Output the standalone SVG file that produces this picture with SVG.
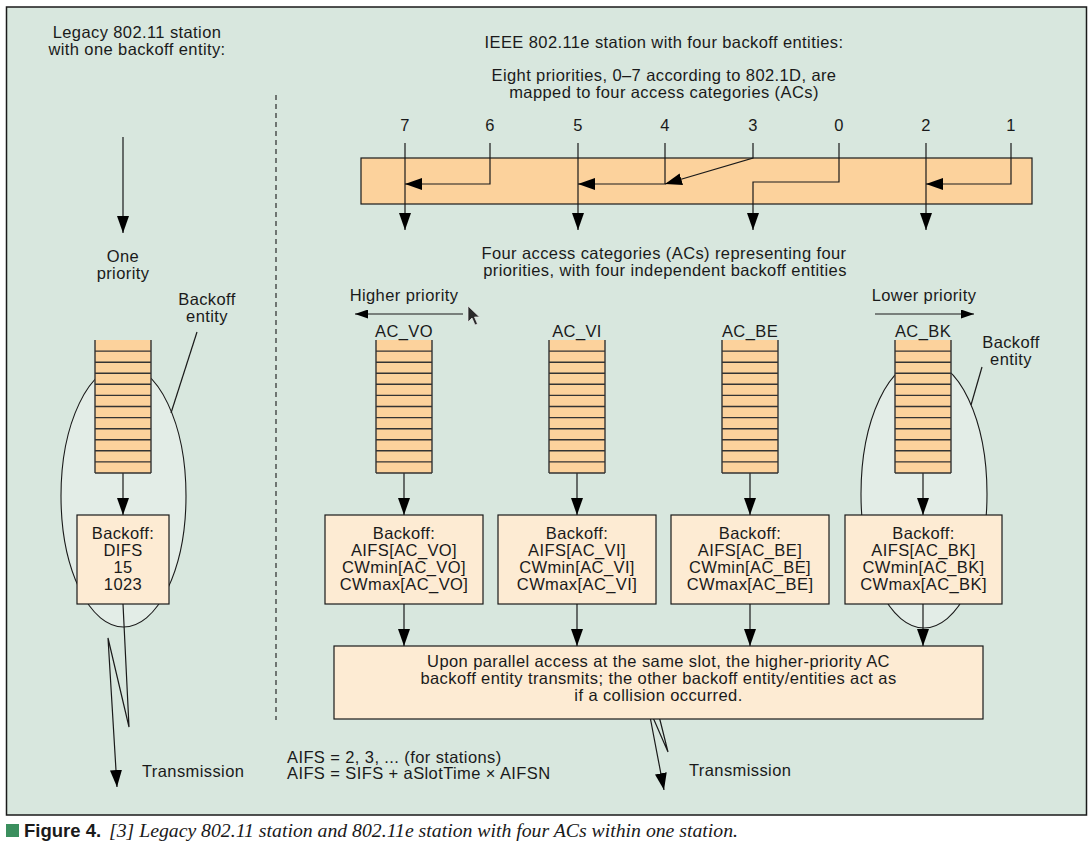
<svg xmlns="http://www.w3.org/2000/svg" xmlns:xlink="http://www.w3.org/1999/xlink" width="1092" height="849" viewBox="0 0 1092 849">
<style>
text{font-family:"Liberation Sans",Arial,sans-serif;font-size:16.5px;letter-spacing:0.4px;fill:#1a1a1a}
.c{text-anchor:middle}
.ln{fill:none;stroke:#1a1a1a;stroke-width:1.2}
.box{fill:#fdebd3;stroke:#1a1a1a;stroke-width:1.2}
.ell{fill:#e3ede7;stroke:#1a1a1a;stroke-width:1.1}
</style>
<defs>
<marker id="ah" markerUnits="userSpaceOnUse" viewBox="0 0 17 12" refX="17" refY="6" markerWidth="17" markerHeight="12" orient="auto"><path d="M0,0 L17,6 L0,12 z" fill="#000"/></marker>
<marker id="as" markerUnits="userSpaceOnUse" viewBox="0 0 13 9" refX="13" refY="4.5" markerWidth="13" markerHeight="9" orient="auto"><path d="M0,0 L13,4.5 L0,9 z" fill="#000"/></marker>
<g id="q">
<rect x="0" y="0" width="56" height="133" fill="#fcd29c"/>
<path d="M0,0 V133 M56,0 V133 M0,11.1 H56 M0,22.2 H56 M0,33.3 H56 M0,44.3 H56 M0,55.4 H56 M0,66.5 H56 M0,77.6 H56 M0,88.7 H56 M0,99.8 H56 M0,110.8 H56 M0,121.9 H56 M0,133 H56" fill="none" stroke="#333" stroke-width="1.4"/>
</g>
</defs>
<rect x="6.5" y="7" width="1080" height="808" fill="#d8e7de" stroke="#1a1a1a" stroke-width="1.5"/>
<line x1="276" y1="95" x2="276" y2="720" stroke="#1a1a1a" stroke-width="1.1" stroke-dasharray="5,4"/>

<g id="entity-legacy"><ellipse class="ell" cx="123.5" cy="496" rx="62.5" ry="131"/></g>
<g id="entity-bk"><ellipse class="ell" cx="924" cy="494" rx="63" ry="134"/></g>
<g id="mapping-bar"><rect x="361" y="158" width="671" height="46" fill="#fcd29c" stroke="#1a1a1a" stroke-width="1.2"/></g>

<g id="connectors">
<line class="ln" x1="123" y1="137" x2="123" y2="233" marker-end="url(#ah)"/>
<line class="ln" x1="405" y1="143" x2="405" y2="230" marker-end="url(#ah)"/>
<polyline class="ln" points="490,143 490,184 405,184" marker-end="url(#ah)"/>
<line class="ln" x1="578" y1="143" x2="578" y2="230" marker-end="url(#ah)"/>
<polyline class="ln" points="665,143 665,184 578,184" marker-end="url(#ah)"/>
<polyline class="ln" points="753,143 753,158 665,184" marker-end="url(#ah)"/>
<polyline class="ln" points="839,143 839,182 753,182 753,230" marker-end="url(#ah)"/>
<line class="ln" x1="926" y1="143" x2="926" y2="230" marker-end="url(#ah)"/>
<polyline class="ln" points="1011,143 1011,184 926,184" marker-end="url(#ah)"/>
<line class="ln" x1="463" y1="314" x2="355" y2="314" marker-end="url(#as)"/>
<line class="ln" x1="875" y1="314" x2="974" y2="314" marker-end="url(#as)"/>
<line class="ln" x1="197" y1="332" x2="171" y2="413"/>
<line class="ln" x1="982" y1="367" x2="971" y2="405"/>
<line class="ln" x1="123" y1="473" x2="123" y2="515" marker-end="url(#ah)"/>
<line class="ln" x1="404" y1="473" x2="404" y2="515" marker-end="url(#ah)"/>
<line class="ln" x1="577" y1="473" x2="577" y2="515" marker-end="url(#ah)"/>
<line class="ln" x1="750" y1="473" x2="750" y2="515" marker-end="url(#ah)"/>
<line class="ln" x1="923" y1="473" x2="923" y2="515" marker-end="url(#ah)"/>
<line class="ln" x1="404" y1="604" x2="404" y2="646" marker-end="url(#ah)"/>
<line class="ln" x1="577" y1="604" x2="577" y2="646" marker-end="url(#ah)"/>
<line class="ln" x1="750" y1="604" x2="750" y2="646" marker-end="url(#ah)"/>
<line class="ln" x1="923" y1="604" x2="923" y2="646" marker-end="url(#ah)"/>
<polyline class="ln" points="123,604 129,727 108,638 117,787" marker-end="url(#ah)"/>
<polyline class="ln" points="655,700 668,752 648,706 664,790" marker-end="url(#ah)"/>
</g>

<g id="queue-legacy"><use xlink:href="#q" x="95" y="340"/></g>
<g id="queue-vo"><use xlink:href="#q" x="376" y="340"/></g>
<g id="queue-vi"><use xlink:href="#q" x="549" y="340"/></g>
<g id="queue-be"><use xlink:href="#q" x="722" y="340"/></g>
<g id="queue-bk"><use xlink:href="#q" x="895" y="340"/></g>

<g id="backoff-legacy"><rect class="box" x="77" y="515" width="92" height="89"/>
<text class="c" x="123" y="539">Backoff:</text><text class="c" x="123" y="556">DIFS</text><text class="c" x="123" y="573">15</text><text class="c" x="123" y="590">1023</text></g>
<g id="backoff-vo"><rect class="box" x="325" y="515" width="158" height="89"/>
<text class="c" x="404" y="539">Backoff:</text><text class="c" x="404" y="556">AIFS[AC_VO]</text><text class="c" x="404" y="573">CWmin[AC_VO]</text><text class="c" x="404" y="590">CWmax[AC_VO]</text></g>
<g id="backoff-vi"><rect class="box" x="498" y="515" width="158" height="89"/>
<text class="c" x="577" y="539">Backoff:</text><text class="c" x="577" y="556">AIFS[AC_VI]</text><text class="c" x="577" y="573">CWmin[AC_VI]</text><text class="c" x="577" y="590">CWmax[AC_VI]</text></g>
<g id="backoff-be"><rect class="box" x="671" y="515" width="158" height="89"/>
<text class="c" x="750" y="539">Backoff:</text><text class="c" x="750" y="556">AIFS[AC_BE]</text><text class="c" x="750" y="573">CWmin[AC_BE]</text><text class="c" x="750" y="590">CWmax[AC_BE]</text></g>
<g id="backoff-bk"><rect class="box" x="845" y="515" width="157" height="89"/>
<text class="c" x="923.5" y="539">Backoff:</text><text class="c" x="923.5" y="556">AIFS[AC_BK]</text><text class="c" x="923.5" y="573">CWmin[AC_BK]</text><text class="c" x="923.5" y="590">CWmax[AC_BK]</text></g>

<g id="arbiter"><rect class="box" x="334" y="646" width="649" height="73"/>
<text class="c" x="658.5" y="667">Upon parallel access at the same slot, the higher-priority AC</text>
<text class="c" x="658.5" y="684">backoff entity transmits; the other backoff entity/entities act as</text>
<text class="c" x="658.5" y="701">if a collision occurred.</text></g>

<g id="labels">
<text class="c" x="137" y="38">Legacy 802.11 station</text>
<text class="c" x="137" y="55">with one backoff entity:</text>
<text class="c" x="123" y="262">One</text>
<text class="c" x="123" y="279">priority</text>
<text class="c" x="207" y="305">Backoff</text>
<text class="c" x="207" y="322">entity</text>
<text x="142" y="777">Transmission</text>
<text class="c" x="664" y="48">IEEE 802.11e station with four backoff entities:</text>
<text class="c" x="664" y="81">Eight priorities, 0–7 according to 802.1D, are</text>
<text class="c" x="664" y="98">mapped to four access categories (ACs)</text>
<text class="c" x="405" y="131">7</text><text class="c" x="490" y="131">6</text><text class="c" x="578" y="131">5</text><text class="c" x="665" y="131">4</text><text class="c" x="753" y="131">3</text><text class="c" x="839" y="131">0</text><text class="c" x="926" y="131">2</text><text class="c" x="1011" y="131">1</text>
<text class="c" x="664" y="259">Four access categories (ACs) representing four</text>
<text class="c" x="665" y="276">priorities, with four independent backoff entities</text>
<text class="c" x="404" y="301">Higher priority</text>
<text class="c" x="924" y="301">Lower priority</text>
<text class="c" x="404" y="337">AC_VO</text>
<text class="c" x="577" y="337">AC_VI</text>
<text class="c" x="750" y="337">AC_BE</text>
<text class="c" x="923" y="337">AC_BK</text>
<text class="c" x="1011" y="348">Backoff</text>
<text class="c" x="1011" y="365">entity</text>
<text x="287" y="763">AIFS = 2, 3, ... (for stations)</text>
<text x="287" y="779">AIFS = SIFS + aSlotTime × AIFSN</text>
<text x="689" y="776">Transmission</text>
</g>
<polygon points="468,306 468,322 472,318 475,325 477.5,324 474.5,317 479.5,317" fill="#2a2a2a" stroke="#eee" stroke-width="0.7"/>

<g id="caption">
<rect x="6" y="824" width="13" height="13" fill="#3b8f5e"/>
<text x="24" y="837" style="font-size:18.5px;font-weight:bold;letter-spacing:0">Figure 4.</text>
<text x="109" y="837" style="font-family:'Liberation Serif','Times New Roman',serif;font-style:italic;font-size:18.5px;letter-spacing:0" textLength="629" lengthAdjust="spacingAndGlyphs">[3] Legacy 802.11 station and 802.11e station with four ACs within one station.</text>
</g>
</svg>
